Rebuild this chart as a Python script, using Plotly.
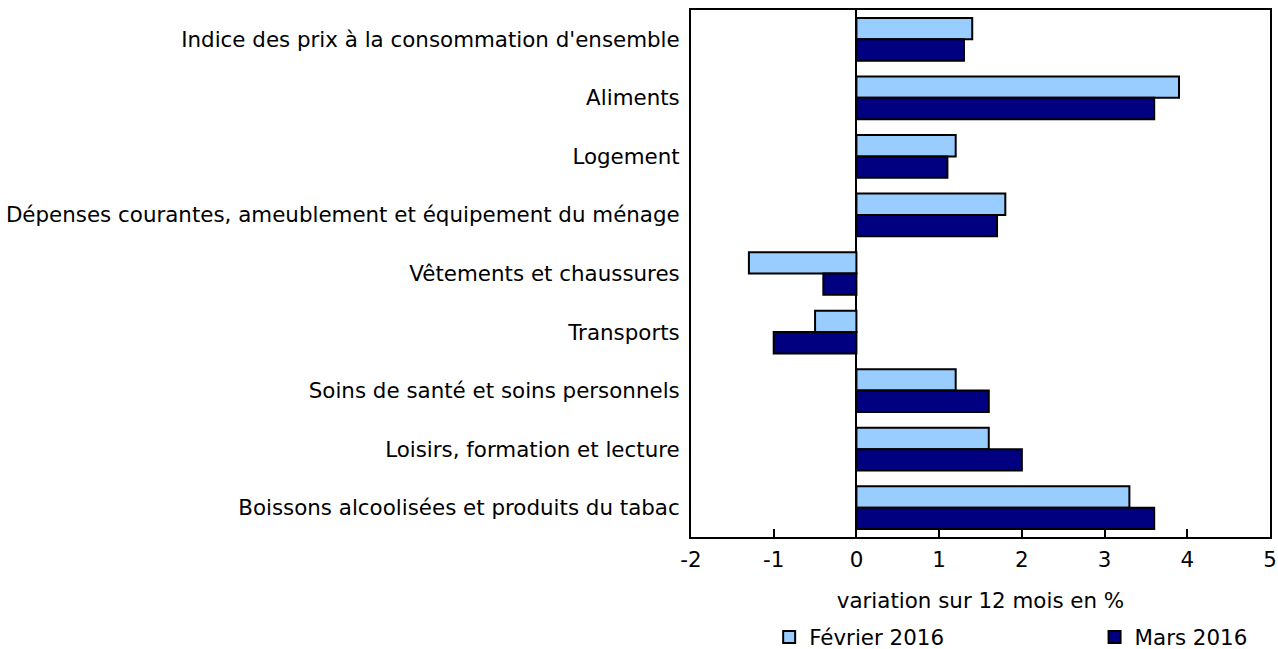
import plotly.graph_objects as go

categories = [
    "Indice des prix à la consommation d'ensemble",
    "Aliments",
    "Logement",
    "Dépenses courantes, ameublement et équipement du ménage",
    "Vêtements et chaussures",
    "Transports",
    "Soins de santé et soins personnels",
    "Loisirs, formation et lecture",
    "Boissons alcoolisées et produits du tabac",
]
fevrier_2016 = [1.4, 3.9, 1.2, 1.8, -1.3, -0.5, 1.2, 1.6, 3.3]
mars_2016 = [1.3, 3.6, 1.1, 1.7, -0.4, -1.0, 1.6, 2.0, 3.6]
x_ticks = [-2, -1, 0, 1, 2, 3, 4, 5]

FONT = "DejaVu Sans"
FS = 21.4

fig = go.Figure()
fig.add_trace(go.Bar(
    y=categories, x=fevrier_2016, name="Février 2016", orientation="h",
    marker=dict(color="#99CCFF", line=dict(color="black", width=2)),
    legend="legend",
))
fig.add_trace(go.Bar(
    y=categories, x=mars_2016, name="Mars 2016", orientation="h",
    marker=dict(color="#000080", line=dict(color="black", width=2)),
    legend="legend2",
))

leg_common = dict(orientation="h", yanchor="middle", y=-0.19, xanchor="left",
                  font=dict(size=FS), itemwidth=30, bgcolor="rgba(0,0,0,0)")

fig.update_layout(
    width=1278, height=649,
    margin=dict(l=691, r=8, t=10, b=112, autoexpand=False),
    paper_bgcolor="white", plot_bgcolor="white",
    font=dict(family=FONT, size=FS, color="black"),
    barmode="group", bargap=0.27, bargroupgap=0.0,
    showlegend=True,
    legend=dict(x=0.135, **leg_common),
    legend2=dict(x=0.697, **leg_common),
    xaxis=dict(
        range=[-2, 5], tickvals=x_ticks, ticktext=[str(v) for v in x_ticks],
        showgrid=False, zeroline=True, zerolinecolor="black", zerolinewidth=2,
        showline=True, linecolor="black", linewidth=2, mirror=True,
        ticks="inside", ticklen=8, tickwidth=2, tickcolor="black",
        ticklabelstandoff=2, automargin=False,
        title=dict(text="variation sur 12 mois en %", standoff=22, font=dict(size=FS)),
    ),
    yaxis=dict(
        categoryorder="array", categoryarray=categories, autorange="reversed",
        showgrid=False, showline=True, linecolor="black", linewidth=2, mirror=True,
        ticks="", ticklabelstandoff=5, automargin=False,
    ),
)

fig.write_html("out.html", config={"displayModeBar": False},
               post_script="document.body.style.margin='0';document.body.style.overflow='hidden';")
